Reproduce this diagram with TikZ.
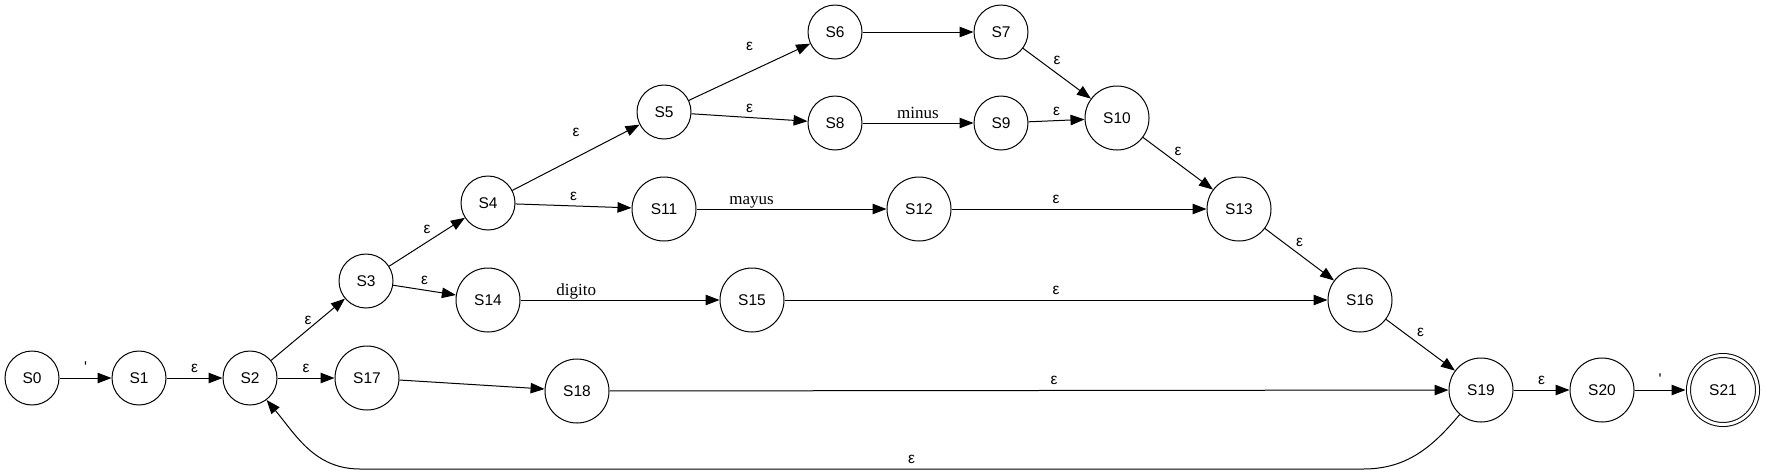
\documentclass[tikz,border=0pt]{standalone}
\usepackage{fontspec}
\setmainfont{Liberation Sans}
\newfontfamily\wordfont{Liberation Serif}
\usepackage{tikz}
\usetikzlibrary{automata}
\usetikzlibrary{arrows.meta}
\usetikzlibrary{positioning}

\begin{document}
\begin{tikzpicture}[x=1pt,y=-1pt,node distance=121pt,line width=1pt,
  >={Triangle[length=14pt,width=10.5pt]},
  every state/.style={draw,circle,minimum size=54pt,inner sep=0pt,font=\fontsize{15.5}{18}\selectfont},
  big/.style={minimum size=64pt},
  endstate/.style={double,double distance=3pt,minimum size=69pt,outer sep=3pt},
  lbl/.style={above=5pt,inner sep=0pt,text depth=0pt,font=\fontsize{15.5}{18}\selectfont},
  word/.style={lbl,above=4pt,font=\wordfont\fontsize{17}{20}\selectfont}]
  \useasboundingbox (0,0) rectangle (1768,475);

  \node[state] (0) at (32,378) {S0};
  \node[state] (1) at (139,378) {S1};
  \node[state] (2) at (250,378) {S2};
  \node[state] (3) at (366,281) {S3};
  \node[state] (4) at (488,203) {S4};
  \node[state] (5) at (664,112) {S5};
  \node[state] (6) at (835,32) {S6};
  \node[state] (7) at (1001,32) {S7};
  \node[state] (8) at (835,123) {S8};
  \node[state] (9) at (1001,123) {S9};
  \node[state,big] (10) at (1117,118) {S10};
  \node[state,big] (11) at (664,209) {S11};
  \node[state,big] (12) at (919,209) {S12};
  \node[state,big] (13) at (1239,209) {S13};
  \node[state,big] (14) at (488,300) {S14};
  \node[state,big] (15) at (752,300) {S15};
  \node[state,big] (16) at (1360,300) {S16};
  \node[state,big] (17) at (367,378) {S17};
  \node[state,big] (18) at (577,391) {S18};
  \node[state,big] (19) at (1481,390) {S19};
  \node[state,big,right of =19] (20) {S20};
  \node[state,endstate,right of =20] (21) {S21};

  \coordinate (loopR) at (1363,469);
  \coordinate (loopL) at (360,469);

  \draw[->](0)--node[lbl]{\textquotesingle}(1);
  \draw[->](1)--node[lbl]{ε}(2);
  \draw[->](2)--node[lbl]{ε}(3);
  \draw[->](2)--node[lbl]{ε}(17);
  \draw[->](3)--node[lbl,above=8pt]{ε}(4);
  \draw[->](3)--node[lbl]{ε}(14);
  \draw[->](4)--node[lbl,above=21pt]{ε}(5);
  \draw[->](4)--node[lbl]{ε}(11);
  \draw[->](5)--node[lbl,above=21pt]{ε}(6);
  \draw[->](5)--node[lbl]{ε}(8);
  \draw[->](6)--(7);
  \draw[->](8)--node[word]{minus}(9);
  \draw[->](7)--node[lbl,above=9pt]{ε}(10);
  \draw[->](9)--node[lbl]{ε}(10);
  \draw[->](10)--node[lbl,above=8pt]{ε}(13);
  \draw[->](11)--node[word,pos=.29]{mayus}(12);
  \draw[->](12)--node[lbl,pos=.41]{ε}(13);
  \draw[->](13)--node[lbl,above=8pt]{ε}(16);
  \draw[->](14)--node[word,pos=.28]{digito}(15);
  \draw[->](15)--node[lbl]{ε}(16);
  \draw[->](16)--node[lbl,above=8pt]{ε}(19);
  \draw[->](17)--(18);
  \draw[->](18)--node[lbl,pos=.53]{ε}(19);
  \draw[->](19)--node[lbl]{ε}(20);
  \draw[->](20)--node[lbl]{\textquotesingle}(21);
  \draw[->](19.-131) to[out=-130,in=0] (loopR) -- node[lbl,pos=.45]{ε} (loopL) to[out=180,in=-50] (2.-53);
\end{tikzpicture}
\end{document}
